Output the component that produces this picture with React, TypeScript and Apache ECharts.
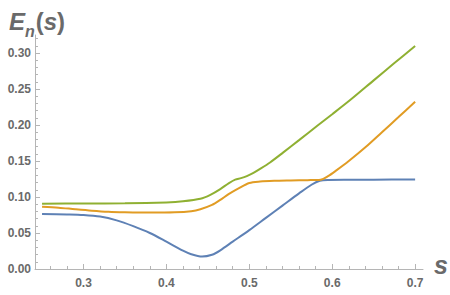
import React, { useEffect, useRef } from "react";
import * as echarts from "echarts";

const blueS = [0.25, 0.28, 0.30, 0.32, 0.34, 0.36, 0.38, 0.40, 0.42, 0.43, 0.443, 0.455, 0.465, 0.48, 0.50, 0.52, 0.54, 0.56, 0.575, 0.585, 0.595, 0.62, 0.65, 0.70];
const blueE = [0.0765, 0.0758, 0.075, 0.0728, 0.0675, 0.0595, 0.0500, 0.038, 0.0255, 0.0205, 0.0172, 0.0198, 0.026, 0.038, 0.054, 0.071, 0.088, 0.105, 0.117, 0.1225, 0.1237, 0.124, 0.1241, 0.1243];

const orangeS = [0.25, 0.27, 0.29, 0.31, 0.33, 0.35, 0.38, 0.41, 0.43, 0.441, 0.455, 0.465, 0.475, 0.487, 0.50, 0.513, 0.53, 0.55, 0.57, 0.586, 0.595, 0.605, 0.62, 0.64, 0.66, 0.68, 0.70];
const orangeE = [0.0866, 0.0852, 0.083, 0.081, 0.0795, 0.0788, 0.0783, 0.0787, 0.0803, 0.083, 0.089, 0.096, 0.104, 0.112, 0.1195, 0.1215, 0.1225, 0.123, 0.1234, 0.1240, 0.129, 0.137, 0.150, 0.169, 0.190, 0.211, 0.2324];

const greenS = [0.25, 0.30, 0.35, 0.40, 0.42, 0.441, 0.453, 0.465, 0.475, 0.483, 0.49, 0.497, 0.505, 0.513, 0.525, 0.541, 0.56, 0.582, 0.60, 0.622, 0.65, 0.675, 0.70];
const greenE = [0.0905, 0.091, 0.0912, 0.0925, 0.094, 0.0975, 0.103, 0.111, 0.119, 0.1242, 0.1262, 0.129, 0.1335, 0.139, 0.148, 0.162, 0.179, 0.199, 0.215, 0.235, 0.262, 0.286, 0.3097];

// Axis ranges and tick steps
const X_MIN = 0.2415;
const X_MAX = 0.7095;
const Y_MIN = 0;
const Y_MAX = 0.325;
const X_MAJOR = { min: 0.3, max: 0.7, step: 0.1 };
const X_MINOR = { min: 0.26, max: 0.7, step: 0.02 };
const Y_MAJOR = { min: 0, max: 0.3, step: 0.05 };
const Y_MINOR = { min: 0, max: 0.32, step: 0.01 };

const AXIS_COLOR = "#b5b5b5";
const TICK_COLOR = "#b5b5b5";
const LABEL_COLOR = "#6a6a6a";
const FONT = "Liberation Sans";

const zip = (xs: number[], ys: number[]) => xs.map((x, i) => [x, ys[i]]);

export default function App() {
  const ref = useRef<HTMLDivElement>(null);
  useEffect(() => {
    if (!ref.current) return;
    const chart = echarts.init(ref.current, undefined, { renderer: "svg" });

    const L = 35, T = 35, W = 388, H = 234;
    const B = T + H;
    const kx = W / (X_MAX - X_MIN);
    const ky = H / (Y_MAX - Y_MIN);
    const xGrid = (r: { min: number; max: number }) => ({
      left: L + (r.min - X_MIN) * kx,
      width: (r.max - r.min) * kx,
      top: T,
      height: H,
    });
    const yGrid = (r: { min: number; max: number }) => ({
      left: L,
      width: W,
      top: B - (r.max - Y_MIN) * ky,
      height: (r.max - r.min) * ky,
    });

    const hiddenAxis = (gridIndex: number) => ({
      type: "value",
      gridIndex,
      min: 0,
      max: 1,
      axisLine: { show: false },
      axisTick: { show: false },
      axisLabel: { show: false },
      splitLine: { show: false },
    });

    const lineSeries = (data: number[][], color: string) => ({
      type: "line",
      data,
      xAxisIndex: 0,
      yAxisIndex: 0,
      showSymbol: false,
      smooth: 0.3,
      lineStyle: { color, width: 2 },
      itemStyle: { color },
    });

    const labelStyle = {
      color: LABEL_COLOR,
      fontFamily: FONT,
      fontWeight: "bold",
      fontSize: 12,
    };

    chart.setOption({
      animation: false,
      title: {
        left: 4,
        top: -2,
        text: "{e|E}{n|n}{p|(}{s|s}{p|)}",
        textStyle: {
          rich: {
            e: { fontFamily: FONT, fontSize: 24, fontWeight: "bold", fontStyle: "italic", color: LABEL_COLOR, verticalAlign: "bottom", lineHeight: 30 },
            n: { fontFamily: FONT, fontSize: 16, fontWeight: "bold", fontStyle: "italic", color: LABEL_COLOR, verticalAlign: "bottom", lineHeight: 30, padding: [0, 1, -6, 0] },
            p: { fontFamily: FONT, fontSize: 24, fontWeight: "bold", color: LABEL_COLOR, verticalAlign: "bottom", lineHeight: 30 },
            s: { fontFamily: FONT, fontSize: 24, fontWeight: "bold", fontStyle: "italic", color: LABEL_COLOR, verticalAlign: "bottom", lineHeight: 30 },
          },
        },
      },
      graphic: [
        {
          type: "text",
          x: 434,
          y: 265,
          style: {
            text: "s",
            font: `italic bold 25px "${FONT}"`,
            fill: LABEL_COLOR,
            verticalAlign: "middle",
          },
        },
      ],
      grid: [
        { left: L, top: T, width: W, height: H, containLabel: false },
        { ...xGrid(X_MAJOR), containLabel: false },
        { ...xGrid(X_MINOR), containLabel: false },
        { ...yGrid(Y_MAJOR), containLabel: false },
        { ...yGrid(Y_MINOR), containLabel: false },
      ],
      xAxis: [
        {
          type: "value",
          gridIndex: 0,
          min: X_MIN,
          max: X_MAX,
          axisLine: { show: true, onZero: false, lineStyle: { color: AXIS_COLOR, width: 1 } },
          axisTick: { show: false },
          axisLabel: { show: false },
          splitLine: { show: false },
        },
        {
          type: "value",
          gridIndex: 1,
          min: X_MAJOR.min,
          max: X_MAJOR.max,
          interval: X_MAJOR.step,
          axisLine: { show: true, onZero: false, lineStyle: { opacity: 0 } },
          axisTick: { show: true, inside: true, length: 5, lineStyle: { color: TICK_COLOR, width: 1 } },
          axisLabel: { show: true, margin: 8, ...labelStyle, formatter: (v: number) => v.toFixed(1) },
          splitLine: { show: false },
        },
        {
          type: "value",
          gridIndex: 2,
          min: X_MINOR.min,
          max: X_MINOR.max,
          interval: X_MINOR.step,
          axisLine: { show: true, onZero: false, lineStyle: { opacity: 0 } },
          axisTick: { show: true, inside: true, length: 3, lineStyle: { color: TICK_COLOR, width: 1 } },
          axisLabel: { show: false },
          splitLine: { show: false },
        },
        hiddenAxis(3),
        hiddenAxis(4),
      ],
      yAxis: [
        {
          type: "value",
          gridIndex: 0,
          min: Y_MIN,
          max: Y_MAX,
          axisLine: { show: true, onZero: false, lineStyle: { color: AXIS_COLOR, width: 1 } },
          axisTick: { show: false },
          axisLabel: { show: false },
          splitLine: { show: false },
        },
        hiddenAxis(1),
        hiddenAxis(2),
        {
          type: "value",
          gridIndex: 3,
          min: Y_MAJOR.min,
          max: Y_MAJOR.max,
          interval: Y_MAJOR.step,
          axisLine: { show: true, onZero: false, lineStyle: { opacity: 0 } },
          axisTick: { show: true, inside: true, length: 5, lineStyle: { color: TICK_COLOR, width: 1 } },
          axisLabel: { show: true, margin: 4, ...labelStyle, formatter: (v: number) => v.toFixed(2) },
          splitLine: { show: false },
        },
        {
          type: "value",
          gridIndex: 4,
          min: Y_MINOR.min,
          max: Y_MINOR.max,
          interval: Y_MINOR.step,
          axisLine: { show: true, onZero: false, lineStyle: { opacity: 0 } },
          axisTick: { show: true, inside: true, length: 3, lineStyle: { color: TICK_COLOR, width: 1 } },
          axisLabel: { show: false },
          splitLine: { show: false },
        },
      ],
      series: [
        lineSeries(zip(blueS, blueE), "#5E81B5"),
        lineSeries(zip(orangeS, orangeE), "#E19C24"),
        lineSeries(zip(greenS, greenE), "#8FB032"),
      ],
    });
    return () => chart.dispose();
  }, []);
  return (
    <div
      ref={ref}
      style={{ position: "fixed", left: 0, top: 0, width: 450, height: 295, background: "#fff" }}
    />
  );
}
